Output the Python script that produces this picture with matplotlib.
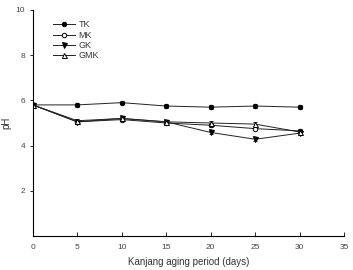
import matplotlib
matplotlib.use("Agg")
import matplotlib.pyplot as plt

plt.rcParams['font.family'] = ['Liberation Sans', 'DejaVu Sans']

days = [0, 5, 10, 15, 20, 25, 30]
tk = [5.8, 5.8, 5.9, 5.75, 5.7, 5.75, 5.7]
mk = [5.8, 5.05, 5.15, 5.0, 4.9, 4.75, 4.65]
gk = [5.8, 5.05, 5.2, 5.05, 4.58, 4.28, 4.55]
gmk = [5.8, 5.1, 5.2, 5.05, 5.0, 4.95, 4.6]
err = [0.08, 0.08, 0.08, 0.08, 0.08, 0.08, 0.08]

fig = plt.figure(figsize=(3.53, 2.70), dpi=100)
ax = fig.add_axes([0.093, 0.126, 0.882, 0.837])

series = [
    ('TK', tk, 'o', 'black', 3.2),
    ('MK', mk, 'o', 'white', 3.2),
    ('GK', gk, 'v', 'black', 3.6),
    ('GMK', gmk, '^', 'white', 3.6),
]
for name, vals, mk_, fc, ms in series:
    ax.errorbar(days, vals, yerr=err, fmt='none', ecolor='black',
                elinewidth=0.6, capsize=1.5, capthick=0.6)
    ax.plot(days, vals, color='#222222', lw=0.7, marker=mk_, ms=ms,
            mfc=fc, mec='black', mew=0.7, label=name)

ax.set_xlim(0, 35)
ax.set_ylim(0, 10)
ax.set_xticks(range(0, 36, 5))
ax.set_yticks([2, 4, 6, 8, 10])
ax.spines['top'].set_visible(False)
ax.spines['right'].set_visible(False)
for s in ['left', 'bottom']:
    ax.spines[s].set_linewidth(0.8)
ax.tick_params(axis='x', direction='in', length=3, width=0.6, labelsize=6,
               labelcolor='#444444', pad=6)
ax.tick_params(axis='y', direction='out', length=2, width=0.6, labelsize=6,
               labelcolor='#444444')

ax.set_xlabel('Kanjang aging period (days)', fontsize=7, color='#333333', labelpad=4)
ax.set_ylabel('pH', fontsize=7, color='#333333')
ax.yaxis.set_label_coords(-0.07, 0.5)

ax.legend(loc='upper left', bbox_to_anchor=(0.04, 0.99), frameon=False,
          fontsize=6.5, handlelength=2.4, labelspacing=0.15, handletextpad=0.4,
          labelcolor='#333333')

fig.savefig('out.png', dpi=100)
